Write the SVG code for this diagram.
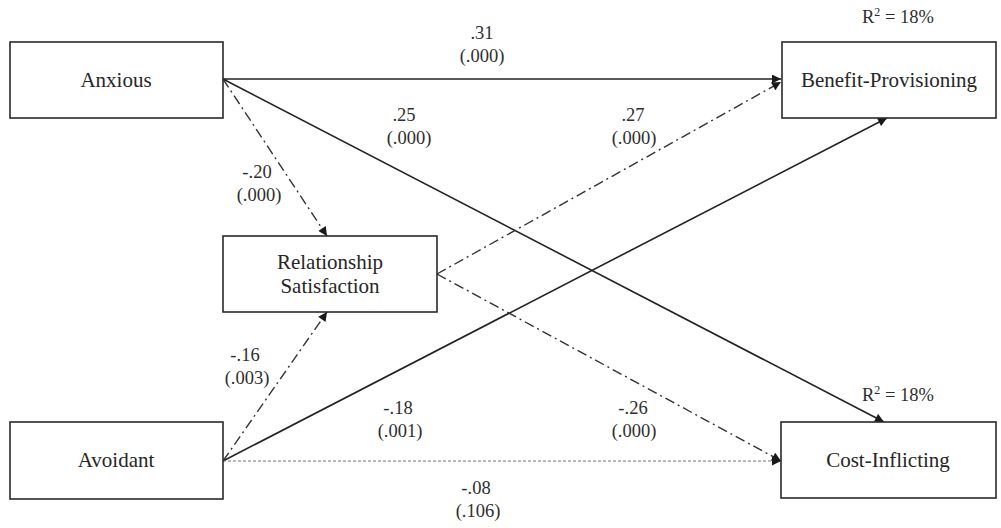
<svg xmlns="http://www.w3.org/2000/svg" width="1001" height="528" viewBox="0 0 1001 528">
<defs>
<style>
.box{fill:#fff;stroke:#2a2a2a;stroke-width:1.6}
.nt{font-family:"Liberation Serif","Times New Roman",serif;font-size:21px;fill:#262626;text-anchor:middle}
.lb{font-family:"Liberation Serif","Times New Roman",serif;font-size:18.5px;fill:#2e2e2e;text-anchor:middle}
.solid{stroke:#222;stroke-width:1.6;fill:none}
.dashdot{stroke:#333;stroke-width:1.4;fill:none;stroke-dasharray:10 4 2 4}
.dot{stroke:#777;stroke-width:1.2;fill:none;stroke-dasharray:3 2}
</style>
<marker id="ah" viewBox="0 0 10 10" refX="10" refY="5" markerWidth="10" markerHeight="9" markerUnits="userSpaceOnUse" orient="auto">
<path d="M0,0 L10,5 L0,10 z" fill="#1a1a1a"/>
</marker>
</defs>
<rect width="1001" height="528" fill="#fff"/>
<g id="connectors">
<line class="solid" x1="223" y1="79" x2="781" y2="79" marker-end="url(#ah)"/>
<line class="solid" x1="223" y1="79" x2="884" y2="422" marker-end="url(#ah)"/>
<line class="dashdot" x1="223" y1="79" x2="327" y2="236" marker-end="url(#ah)"/>
<line class="dashdot" x1="223" y1="461" x2="327" y2="312" marker-end="url(#ah)"/>
<line class="solid" x1="223" y1="461" x2="887" y2="118" marker-end="url(#ah)"/>
<line class="dot" x1="223" y1="461" x2="781" y2="461" marker-end="url(#ah)"/>
<line class="dashdot" x1="437" y1="274" x2="781" y2="82" marker-end="url(#ah)"/>
<line class="dashdot" x1="437" y1="274" x2="781" y2="461" marker-end="url(#ah)"/>
</g>
<g id="anxious">
<rect class="box" x="10" y="42" width="213" height="76"/>
<text class="nt" x="116" y="87">Anxious</text>
</g>
<g id="avoidant">
<rect class="box" x="10" y="422" width="213" height="77"/>
<text class="nt" x="116" y="467">Avoidant</text>
</g>
<g id="relationship-satisfaction">
<rect class="box" x="223" y="236" width="214" height="76"/>
<text class="nt" x="330" y="269">Relationship</text>
<text class="nt" x="330" y="293">Satisfaction</text>
</g>
<g id="benefit-provisioning">
<rect class="box" x="782" y="42" width="214" height="76"/>
<text class="nt" x="889" y="87">Benefit-Provisioning</text>
</g>
<g id="cost-inflicting">
<rect class="box" x="781" y="422" width="215" height="76"/>
<text class="nt" x="888" y="467">Cost-Inflicting</text>
</g>
<g id="labels">
<text class="lb" x="482" y="39">.31</text>
<text class="lb" x="482" y="62">(.000)</text>
<text class="lb" x="404" y="121">.25</text>
<text class="lb" x="409" y="144">(.000)</text>
<text class="lb" x="633" y="121">.27</text>
<text class="lb" x="634" y="144">(.000)</text>
<text class="lb" x="257" y="178">-.20</text>
<text class="lb" x="259" y="201">(.000)</text>
<text class="lb" x="245" y="361">-.16</text>
<text class="lb" x="247" y="384">(.003)</text>
<text class="lb" x="398" y="414">-.18</text>
<text class="lb" x="400" y="437">(.001)</text>
<text class="lb" x="633" y="414">-.26</text>
<text class="lb" x="634" y="437">(.000)</text>
<text class="lb" x="476" y="494">-.08</text>
<text class="lb" x="478" y="517">(.106)</text>
<text class="lb" x="898" y="23">R<tspan font-size="12" dy="-7">2</tspan><tspan dy="7"> = 18%</tspan></text>
<text class="lb" x="898" y="401">R<tspan font-size="12" dy="-7">2</tspan><tspan dy="7"> = 18%</tspan></text>
</g>
</svg>
